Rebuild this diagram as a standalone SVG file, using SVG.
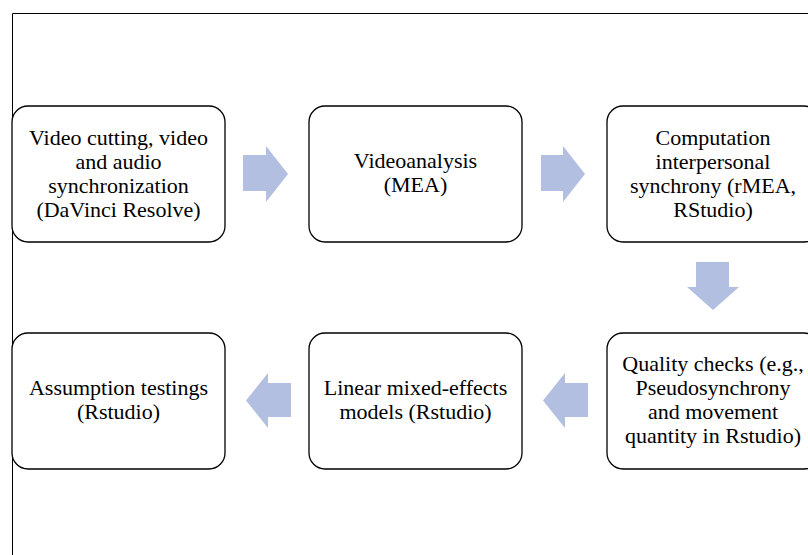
<svg xmlns="http://www.w3.org/2000/svg" width="808" height="555" viewBox="0 0 808 555">
<style>
.box{fill:#fff;stroke:#000;stroke-width:1.3}
.t{font-family:'Liberation Serif','Times New Roman',serif;font-size:22px;fill:#000;text-anchor:middle}
.arr{fill:#B3BFE0}
</style>
<rect width="808" height="555" fill="#fff"/>
<path d="M12.5,560 V13.5 H820" fill="none" stroke="#000" stroke-width="1"/>
<g id="n1"><rect class="box" x="12" y="106" width="213" height="136" rx="16"/>
<text class="t"><tspan x="118.5" y="145">Video cutting, video</tspan><tspan x="118.5" y="169">and audio</tspan><tspan x="118.5" y="193">synchronization</tspan><tspan x="118.5" y="217">(DaVinci Resolve)</tspan></text></g>
<g id="n2"><rect class="box" x="309" y="106" width="213" height="136" rx="16"/>
<text class="t"><tspan x="415.5" y="168">Videoanalysis</tspan><tspan x="415.5" y="192">(MEA)</tspan></text></g>
<g id="n3"><rect class="box" x="607" y="106" width="213" height="136" rx="16"/>
<text class="t"><tspan x="713" y="145">Computation</tspan><tspan x="713" y="169">interpersonal</tspan><tspan x="713" y="193">synchrony (rMEA,</tspan><tspan x="713" y="217">RStudio)</tspan></text></g>
<g id="n4"><rect class="box" x="607" y="333" width="213" height="136" rx="16"/>
<text class="t"><tspan x="713" y="371">Quality checks (e.g.,</tspan><tspan x="713" y="395">Pseudosynchrony</tspan><tspan x="713" y="419">and movement</tspan><tspan x="713" y="443">quantity in Rstudio)</tspan></text></g>
<g id="n5"><rect class="box" x="309" y="333" width="213" height="136" rx="16"/>
<text class="t"><tspan x="415.5" y="395">Linear mixed-effects</tspan><tspan x="415.5" y="419">models (Rstudio)</tspan></text></g>
<g id="n6"><rect class="box" x="12" y="333" width="213" height="136" rx="16"/>
<text class="t"><tspan x="118.5" y="395">Assumption testings</tspan><tspan x="118.5" y="419">(Rstudio)</tspan></text></g>
<g id="connectors">
<path class="arr" d="M243,155 H266 V146 L288,174 L266,202 V191 H243 Z"/>
<path class="arr" d="M541,155 H563 V146 L585,174 L563,202 V191 H541 Z"/>
<path class="arr" d="M696,262 H729 V287 H739 L713,310 L687,287 H696 Z"/>
<path class="arr" d="M588,383 H565 V373 L543,400.5 L565,428 V417 H588 Z"/>
<path class="arr" d="M291,383 H268 V373 L246,400.5 L268,428 V417 H291 Z"/>
</g>
</svg>
